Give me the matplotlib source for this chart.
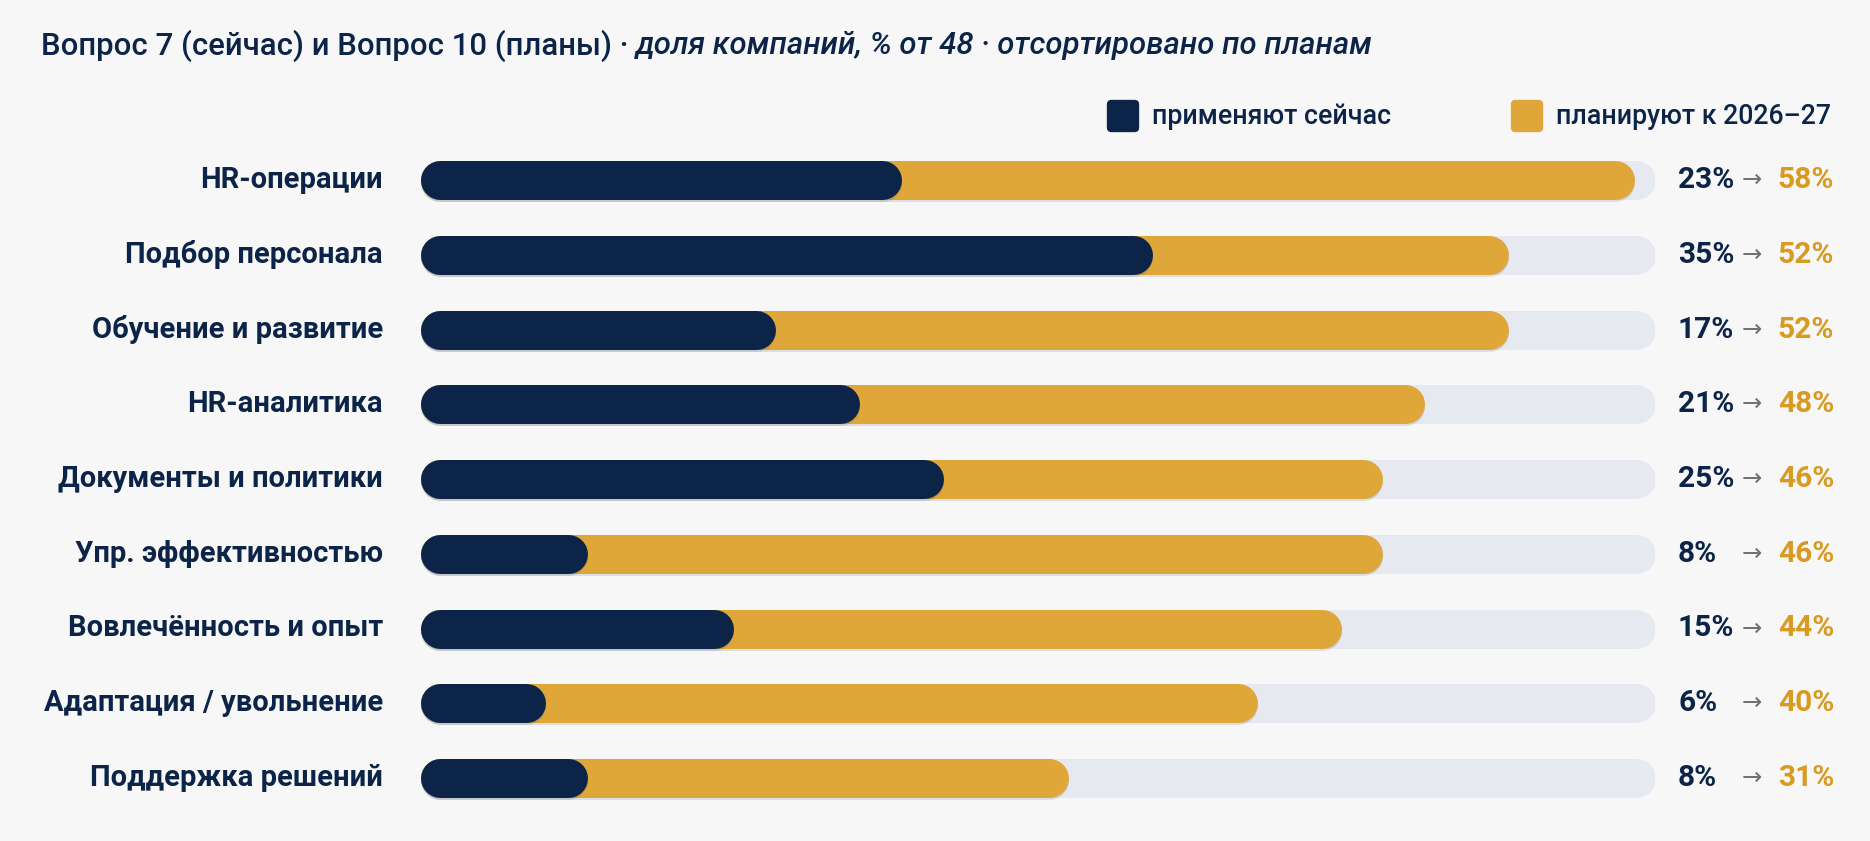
import matplotlib
matplotlib.use('Agg')
import matplotlib.pyplot as plt
from matplotlib.markers import MarkerStyle
from matplotlib.lines import Line2D
import matplotlib.transforms as mtrans
import matplotlib.patheffects as pe

# ---- data ----
categories = ["HR-операции", "Подбор персонала", "Обучение и развитие", "HR-аналитика",
              "Документы и политики", "Упр. эффективностью", "Вовлечённость и опыт",
              "Адаптация / увольнение", "Поддержка решений"]
now_pct = [23, 35, 17, 21, 25, 8, 15, 6, 8]
plan_pct = [58, 52, 52, 48, 46, 46, 44, 40, 31]
legend_labels = ["применяют сейчас", "планируют к 2026–27"]
title_main = "Вопрос 7 (сейчас) и Вопрос 10 (планы) · "
title_sub = "доля компаний, % от 48 · отсортировано по планам"
track_max = 59

# ---- style ----
NAVY = "#0b2447"
GOLD = "#dfa63a"
GOLD_TXT = "#d99a22"
TRACK = "#e6e9f0"
BG = "#f7f7f7"
ARROW = "#707070"

plt.rcParams['font.family'] = ['Roboto', 'DejaVu Sans']

W, H, DPI = 1870, 841, 100
fig = plt.figure(figsize=(W / DPI, H / DPI), dpi=DPI, facecolor=BG)

bar_left, bar_right = 420, 1655
row0, rowN = 180, 778
n = len(categories)
step = (rowN - row0) / (n - 1)
ax_top = row0 - step / 2
ax_bot = rowN + step / 2
ax = fig.add_axes([bar_left / W, 1 - ax_bot / H, (bar_right - bar_left) / W, (ax_bot - ax_top) / H])
ax.set_xlim(0, track_max)
ax.set_ylim(n - 0.5, -0.5)
ax.axis('off')

bar_px = 39
lw = bar_px * 72 / DPI
r = (bar_px / 2) / ((bar_right - bar_left) / track_max)
shadow = [pe.SimpleLineShadow(offset=(0, -1.5), shadow_color='#1a2a44', alpha=0.12), pe.Normal()]


def rbar(x0, x1, y, color, z, fx=None):
    a = x0 + r
    b = max(x1 - r, a)
    ax.plot([a, b], [y, y], color=color, lw=lw, solid_capstyle='round', zorder=z,
            path_effects=fx)


for i in range(n):
    rbar(0, track_max, i, TRACK, 1)
    rbar(0, plan_pct[i], i, GOLD, 2, shadow)
    rbar(0, now_pct[i], i, NAVY, 3, shadow)

blend = mtrans.blended_transform_factory(fig.transFigure, ax.transData)
for i, cat in enumerate(categories):
    ax.text(383 / W, i, cat, transform=blend, ha='right', va='center',
            fontsize=21, fontweight='bold', color=NAVY)
    ax.text(1678 / W, i, f"{now_pct[i]}%", transform=blend, ha='left', va='center',
            fontsize=21.5, fontweight='bold', color=NAVY)
    ax.text(1752 / W, i, "→", transform=blend, ha='center', va='center',
            fontsize=17.5, color=ARROW, family=['DejaVu Sans'])
    ax.text(1834 / W, i, f"{plan_pct[i]}%", transform=blend, ha='right', va='center',
            fontsize=21.5, fontweight='bold', color=GOLD_TXT)

# ---- legend ----
leg_y = 1 - 116 / H
for xpx, col, txt, tx in [(1123, NAVY, legend_labels[0], 1152), (1527, GOLD, legend_labels[1], 1556)]:
    m = MarkerStyle('s', joinstyle='round')
    fig.add_artist(Line2D([xpx / W], [leg_y], marker=m, markersize=17, markeredgewidth=6,
                          color=col, markerfacecolor=col, markeredgecolor=col,
                          transform=fig.transFigure, linestyle='none'))
    fig.text(tx / W, leg_y, txt, ha='left', va='center', fontsize=19.3,
             fontweight='medium', color=NAVY)

# ---- title ----
title_y = 1 - 46 / H
t1 = fig.text(41 / W, title_y, title_main, ha='left', va='center', fontsize=22.4,
              fontweight='medium', color=NAVY)
fig.canvas.draw()
bb = t1.get_window_extent()
fig.text(bb.x1 / W, title_y, title_sub, ha='left', va='center', fontsize=22.4,
         fontweight='medium', fontstyle='italic', color=NAVY)

fig.savefig('out.png', dpi=DPI, facecolor=BG)
